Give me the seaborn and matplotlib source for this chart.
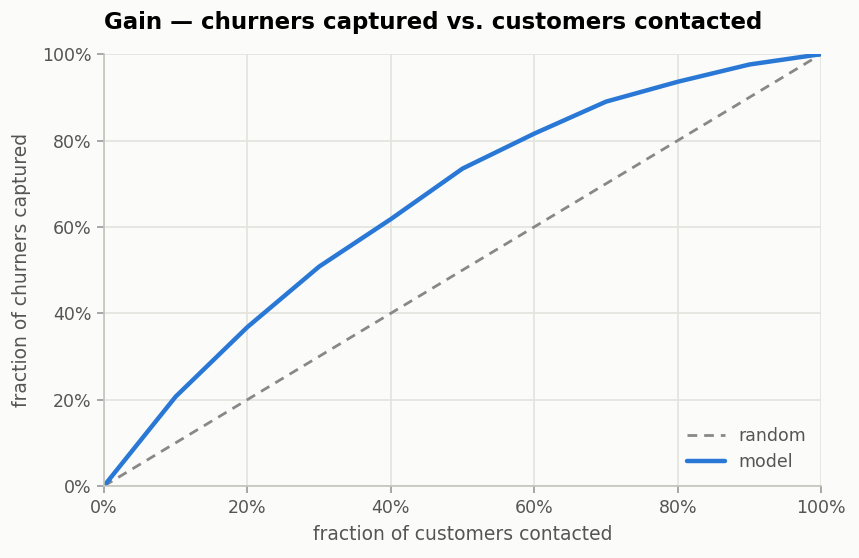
import numpy as np
import pandas as pd
import matplotlib
matplotlib.use("Agg")
import matplotlib.pyplot as plt
import seaborn as sns
from matplotlib.ticker import PercentFormatter

# fração de clientes contatados (decis) e fração de churners capturados
fracao_contatados = [0.0, 0.1, 0.2, 0.3, 0.4, 0.5, 0.6, 0.7, 0.8, 0.9, 1.0]
fracao_capturados = [0.0, 0.207, 0.368, 0.508, 0.618, 0.735, 0.816, 0.890, 0.936, 0.976, 1.0]
aleatorio = [0.0, 1.0]

sns.set_theme(style="whitegrid")
plt.rcParams["font.family"] = ["DejaVu Sans"]

fundo = "#fbfbf9"
cinza_texto = "#555555"

fig = plt.figure(figsize=(8.59, 5.58), dpi=100, facecolor=fundo)
ax = fig.add_axes([0.121, 0.129, 0.835, 0.774], facecolor=fundo)

sns.lineplot(x=aleatorio, y=aleatorio, ax=ax, color="#888888", lw=2,
             linestyle=(0, (3.5, 2.5)), label="random")
sns.lineplot(x=fracao_contatados, y=fracao_capturados, ax=ax, color="#2a78d6",
             lw=3.2, label="model")

ax.set_xlim(0, 1)
ax.set_ylim(0, 1)
ax.set_xticks(np.arange(0, 1.01, 0.2))
ax.set_yticks(np.arange(0, 1.01, 0.2))
ax.xaxis.set_major_formatter(PercentFormatter(1.0, decimals=0))
ax.yaxis.set_major_formatter(PercentFormatter(1.0, decimals=0))

ax.grid(True, color="#e4e4de", lw=1.2)
for lado in ["top", "right"]:
    ax.spines[lado].set_visible(False)
for lado in ["left", "bottom"]:
    ax.spines[lado].set_color("#c4c4bc")
    ax.spines[lado].set_linewidth(1.2)
ax.tick_params(axis="both", colors="#999999", labelcolor=cinza_texto,
               labelsize=12.5, length=5, width=1.2, direction="out", pad=4,
               bottom=True, left=True)

ax.set_xlabel("fraction of customers contacted", fontsize=13.5, color=cinza_texto,
              labelpad=6)
ax.set_ylabel("fraction of churners captured", fontsize=13.5, color=cinza_texto,
              labelpad=8)
ax.set_title("Gain — churners captured vs. customers contacted", loc="left",
             fontsize=16.5, fontweight="bold", color="black", pad=18)

leg = ax.legend(loc="lower right", frameon=False, fontsize=12.5, handlelength=2.2,
                borderaxespad=0.45)
for t in leg.get_texts():
    t.set_color(cinza_texto)

fig.savefig("out.png", dpi=100, facecolor=fundo)
